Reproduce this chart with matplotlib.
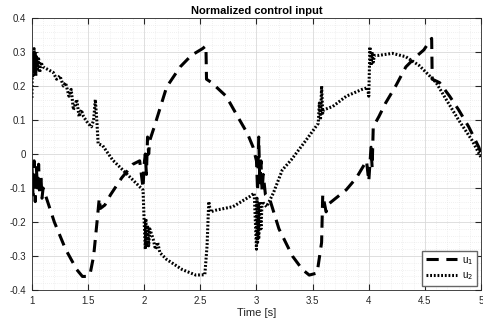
import matplotlib
matplotlib.use("Agg")
import matplotlib.pyplot as plt
from matplotlib.ticker import MultipleLocator

# values
t_u1 = [1.00, 1.01, 1.02, 1.03, 1.04, 1.05, 1.06, 1.07, 1.08, 1.09, 1.10,
        1.15, 1.20, 1.30, 1.40, 1.45, 1.50, 1.52, 1.55, 1.58, 1.60, 1.61,
        1.65, 1.70, 1.80, 1.90, 1.96, 1.99, 2.00, 2.01, 2.02, 2.03, 2.04,
        2.05, 2.09, 2.20, 2.32, 2.42, 2.52, 2.55, 2.555, 2.60, 2.73, 2.85,
        2.92, 2.97, 3.00, 3.01, 3.02, 3.03, 3.04, 3.05, 3.06, 3.08, 3.12,
        3.20, 3.32, 3.41, 3.47, 3.54, 3.58, 3.59, 3.62, 3.65, 3.80, 3.89,
        3.98, 4.00, 4.01, 4.02, 4.03, 4.04, 4.09, 4.15, 4.24, 4.33, 4.42,
        4.49, 4.56, 4.565, 4.63, 4.72, 4.80, 4.89, 4.98, 5.00]
u1 = [-0.03, -0.12, -0.02, -0.14, -0.04, -0.10, -0.03, -0.12, -0.06, -0.13, -0.10,
      -0.15, -0.20, -0.28, -0.34, -0.36, -0.36, -0.35, -0.30, -0.20, -0.13, -0.16,
      -0.15, -0.12, -0.07, -0.03, -0.02, -0.10, -0.03, 0.00, -0.06, 0.05, 0.00,
      0.04, 0.08, 0.197, 0.256, 0.29, 0.31, 0.318, 0.22, 0.21, 0.17, 0.10,
      0.06, 0.02, -0.02, -0.11, 0.05, -0.09, -0.02, -0.11, -0.06, -0.12, -0.135,
      -0.22, -0.30, -0.34, -0.356, -0.35, -0.26, -0.12, -0.17, -0.145, -0.105, -0.07,
      -0.02, -0.08, -0.03, 0.02, -0.04, 0.08, 0.11, 0.15, 0.20, 0.256, 0.286,
      0.306, 0.34, 0.22, 0.21, 0.17, 0.13, 0.08, 0.02, 0.00]

t_u2 = [1.00, 1.005, 1.01, 1.015, 1.02, 1.025, 1.03, 1.035, 1.04, 1.05, 1.06,
        1.07, 1.08, 1.10, 1.19, 1.22, 1.25, 1.28, 1.30, 1.33, 1.35, 1.37,
        1.40, 1.42, 1.44, 1.46, 1.50, 1.53, 1.55, 1.565, 1.58, 1.59, 1.63,
        1.72, 1.81, 1.99, 2.00, 2.01, 2.015, 2.02, 2.03, 2.04, 2.05, 2.08,
        2.10, 2.12, 2.14, 2.20, 2.34, 2.46, 2.54, 2.56, 2.575, 2.59, 2.64,
        2.79, 2.94, 2.98, 3.00, 3.005, 3.01, 3.015, 3.02, 3.03, 3.04, 3.05,
        3.09, 3.15, 3.23, 3.31, 3.44, 3.55, 3.56, 3.57, 3.58, 3.59, 3.60,
        3.68, 3.80, 3.94, 3.99, 4.00, 4.01, 4.02, 4.03, 4.04, 4.05, 4.09,
        4.21, 4.33, 4.45, 4.55, 4.60, 4.69, 4.80, 4.92, 5.00]
u2 = [0.165, 0.30, 0.23, 0.29, 0.31, 0.24, 0.30, 0.23, 0.29, 0.25, 0.28,
      0.24, 0.27, 0.256, 0.24, 0.22, 0.23, 0.20, 0.21, 0.17, 0.19, 0.13,
      0.16, 0.11, 0.13, 0.11, 0.09, 0.08, 0.10, 0.16, 0.09, 0.03, 0.025,
      -0.018, -0.047, -0.106, -0.20, -0.28, -0.19, -0.27, -0.21, -0.27, -0.22, -0.25,
      -0.28, -0.26, -0.29, -0.31, -0.34, -0.356, -0.355, -0.27, -0.14, -0.17, -0.165,
      -0.155, -0.125, -0.115, -0.28, -0.13, -0.26, -0.15, -0.25, -0.14, -0.22, -0.14,
      -0.155, -0.115, -0.047, -0.017, 0.04, 0.09, 0.15, 0.10, 0.20, 0.12, 0.13,
      0.14, 0.17, 0.19, 0.195, 0.17, 0.315, 0.26, 0.30, 0.27, 0.29, 0.29,
      0.296, 0.286, 0.26, 0.227, 0.21, 0.16, 0.10, 0.04, -0.01]

plt.rcParams["font.family"] = ["Liberation Sans", "DejaVu Sans"]

fig = plt.figure(figsize=(4.83, 3.33), dpi=100)
ax = fig.add_axes([0.066, 0.129, 0.930, 0.817])

ax.plot(t_u1, u1, color="black", lw=2.2, dashes=(4, 2.5), label="u$_1$")
ax.plot(t_u2, u2, color="black", lw=2.2, linestyle=(0, (0.6, 0.6)), label="u$_2$")

ax.set_xlim(1, 5)
ax.set_ylim(-0.4, 0.4)
ax.xaxis.set_minor_locator(MultipleLocator(0.1))
ax.yaxis.set_minor_locator(MultipleLocator(0.02))
ax.set_xticks([1, 1.5, 2, 2.5, 3, 3.5, 4, 4.5, 5])
ax.set_xticklabels(["1", "1.5", "2", "2.5", "3", "3.5", "4", "4.5", "5"])
ax.set_yticks([-0.4, -0.3, -0.2, -0.1, 0, 0.1, 0.2, 0.3, 0.4])
ax.set_yticklabels(["-0.4", "-0.3", "-0.2", "-0.1", "0", "0.1", "0.2", "0.3", "0.4"])

ax.grid(which="major", color="#d9d9d9", lw=0.6)
ax.grid(which="minor", color="#e3e3e3", lw=0.5, linestyle=(0, (1, 2)))
ax.tick_params(which="major", direction="in", length=4, top=True, right=True,
               labelsize=7, colors="#262626", labelcolor="#262626", pad=4)
ax.tick_params(which="minor", length=0)
for s in ax.spines.values():
    s.set_color("#262626")
    s.set_linewidth(0.6)

ax.set_title("Normalized control input", fontsize=8, fontweight="bold", pad=3)
ax.set_xlabel("Time [s]", fontsize=8, color="#262626", labelpad=2)

leg = ax.legend(loc="lower right", fontsize=7, handlelength=3.2, framealpha=1,
                fancybox=False, edgecolor="#666666", borderpad=0.4,
                labelspacing=0.4, handletextpad=0.5, borderaxespad=0.4)
leg.get_frame().set_linewidth(1.0)

fig.savefig("out.png", dpi=100)
